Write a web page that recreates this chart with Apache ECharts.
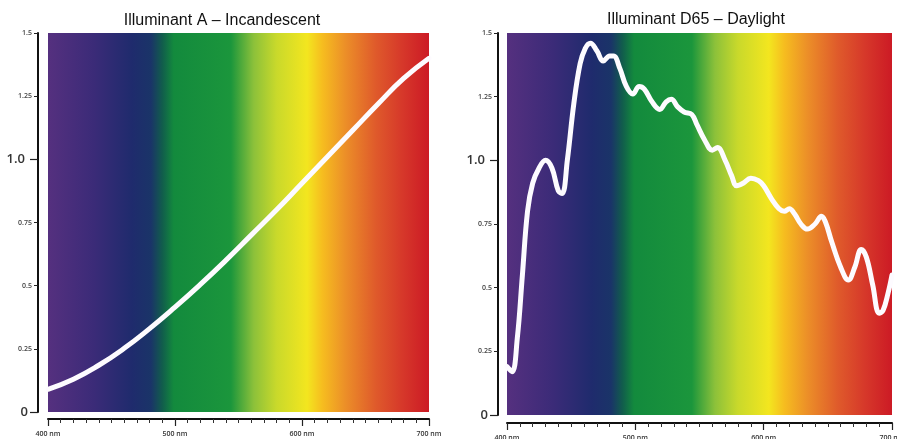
<!DOCTYPE html>
<html>
<head>
<meta charset="utf-8">
<script src="https://cdn.jsdelivr.net/npm/echarts@6/dist/echarts.min.js"></script>
<style>
html, body { margin: 0; padding: 0; background: #fff; }
#chart { width: 897px; height: 439px; }
</style>
</head>
<body>
<div id="chart"></div>
<script>
// wavelengths (nm) and relative power
const nmA = [400, 420, 440, 460, 480, 500, 520, 540, 560, 580, 600, 620, 640, 660, 680, 700];
const powerA = [0.090, 0.130, 0.185, 0.252, 0.330, 0.415, 0.505, 0.600, 0.700, 0.800,
                0.905, 1.010, 1.115, 1.220, 1.320, 1.400];

const nmD65 = [400, 404, 408, 412, 416, 420, 425, 430, 435, 440, 443, 447, 452, 457, 461, 465, 470, 475,
               480, 483, 488, 493, 498, 503, 507, 513, 519, 524, 528, 533, 538, 544, 548, 554, 560, 564,
               570, 575, 579, 584, 590, 596, 600, 606, 612, 616, 620, 624, 629, 634, 640, 645, 648, 653,
               660, 666, 671, 676, 680, 685, 690, 693, 697, 700];
const powerD65 = [0.19, 0.17, 0.30, 0.55, 0.80, 0.91, 0.97, 1.00, 0.97, 0.88, 0.87, 1.00, 1.22, 1.38, 1.44, 1.46, 1.43, 1.39,
                  1.41, 1.41, 1.36, 1.29, 1.26, 1.29, 1.28, 1.23, 1.20, 1.23, 1.24, 1.21, 1.19, 1.18, 1.14, 1.08, 1.04, 1.05,
                  1.00, 0.94, 0.90, 0.91, 0.93, 0.92, 0.90, 0.85, 0.81, 0.80, 0.81, 0.79, 0.75, 0.73, 0.75, 0.78, 0.76, 0.68,
                  0.58, 0.53, 0.58, 0.65, 0.62, 0.51, 0.40, 0.41, 0.48, 0.55];

const titles = ['Illuminant A – Incandescent', 'Illuminant D65 – Daylight'];

// spectrum colours across 400-700 nm
const spectrumOffsets = [0, 0.12, 0.22, 0.27, 0.30, 0.33, 0.48, 0.54, 0.60, 0.68, 0.72, 0.78, 0.86, 0.93, 1];
const spectrumColors = ['#55307f', '#3b2b78', '#1f2b6d', '#1a3468', '#115d4c', '#138a3d', '#1b963c', '#8cc13a',
                        '#c9d92b', '#f3e61f', '#f6bd1f', '#ec8f28', '#df5a2b', '#d6382a', '#cc1a25'];

const myChart = echarts.init(document.getElementById('chart'));

const spectrum = {
    type: 'linear', x: 0, y: 0, x2: 1, y2: 0,
    colorStops: spectrumOffsets.map((o, i) => ({ offset: o, color: spectrumColors[i] }))
};

const yLabel = (v) => {
    if (v === 1) return '{big|1.0}';
    if (v === 0) return '{zero|0}';
    return '{small|' + v + '}';
};

const makeX = (grid, off, margin) => ({
    type: 'value', gridIndex: grid, min: 400, max: 700, interval: 100, offset: off,
    axisLine: { show: true, onZero: false, lineStyle: { color: '#111', width: 2 } },
    axisTick: { show: true, length: 7, lineStyle: { color: '#222', width: 1.2 } },
    minorTick: { show: true, splitNumber: 10, length: 4, lineStyle: { color: '#333', width: 1 } },
    splitLine: { show: false },
    axisLabel: { margin: margin, formatter: '{value} nm', fontSize: 7, fontWeight: 600,
                 fontFamily: 'Open Sans', color: '#333' }
});

const makeY = (grid, off) => ({
    type: 'value', gridIndex: grid, min: 0, max: 1.5, interval: 0.25, offset: off, position: 'left',
    axisLine: { show: true, lineStyle: { color: '#111', width: 2 } },
    axisTick: { show: true, length: 4, lineStyle: { color: '#222', width: 1 } },
    splitLine: { show: false },
    axisLabel: {
        margin: 6, formatter: yLabel,
        rich: {
            small: { fontSize: 7, fontWeight: 600, fontFamily: 'Open Sans', color: '#444' },
            big: { fontSize: 13, fontWeight: 600, fontFamily: 'Open Sans', color: '#333', padding: [0, 7, 0, 0] },
            zero: { fontSize: 13, fontWeight: 600, fontFamily: 'Open Sans', color: '#333', padding: [0, 4, 0, 0] }
        }
    }
});

// second axis only for the longer ticks at 0 and 1.0
const makeYLong = (grid, off) => ({
    type: 'value', gridIndex: grid, min: 0, max: 1.5, offset: off, position: 'left',
    axisLine: { show: false },
    axisLabel: { show: false },
    splitLine: { show: false },
    axisTick: { show: true, length: 8, customValues: [0, 1], lineStyle: { color: '#222', width: 1.2 } }
});

const bandSeries = (idx) => ({
    type: 'line', xAxisIndex: idx, yAxisIndex: idx, data: [], z: 1, silent: true,
    markArea: {
        silent: true,
        itemStyle: { color: spectrum, opacity: 1 },
        data: [[{ coord: [400, 0] }, { coord: [700, 1.5] }]]
    }
});

const curveSeries = (idx, xs, ys, smooth) => ({
    type: 'line', xAxisIndex: idx, yAxisIndex: idx, z: 5,
    data: xs.map((x, i) => [x, ys[i]]),
    smooth: smooth, showSymbol: false, silent: true,
    lineStyle: { color: '#fdfbff', width: 5, cap: 'round', join: 'round' }
});

option = {
    animation: false,
    backgroundColor: '#fff',
    graphic: [
        { type: 'text', x: 222, y: 21, style: { text: titles[0], align: 'center', verticalAlign: 'middle',
          font: '16px "Liberation Sans", Arial, sans-serif', fill: '#111' } },
        { type: 'text', x: 696, y: 20, style: { text: titles[1], align: 'center', verticalAlign: 'middle',
          font: '16px "Liberation Sans", Arial, sans-serif', fill: '#111' } }
    ],
    grid: [
        { left: 48, right: 468, top: 33, bottom: 27, outerBoundsMode: 'none' },
        { left: 507, right: 5, top: 33, bottom: 24, outerBoundsMode: 'none' }
    ],
    xAxis: [makeX(0, 7, 11), makeX(1, 8, 11)],
    yAxis: [makeY(0, 10), makeY(1, 9), makeYLong(0, 10), makeYLong(1, 9)],
    series: [
        bandSeries(0),
        bandSeries(1),
        curveSeries(0, nmA, powerA, 0.5),
        curveSeries(1, nmD65, powerD65, 0.4)
    ]
};

option && myChart.setOption(option);
</script>
</body>
</html>
